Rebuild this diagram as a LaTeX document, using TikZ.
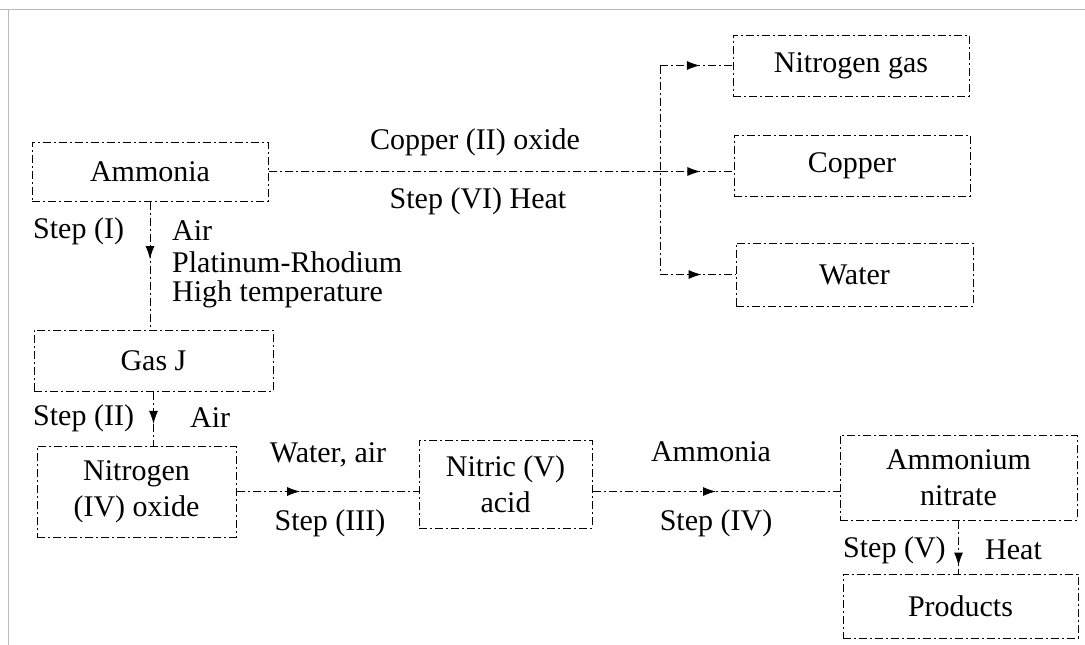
\documentclass[tikz,border=0pt]{standalone}
\usepackage{fontspec}
\setmainfont{Liberation Serif}
\usetikzlibrary{arrows.meta,decorations.markings}
\tikzset{
  ln/.style={line width=1pt, dash pattern=on 8pt off 3pt on 2pt off 3pt},
  box/.style={ln, draw, align=center, inner sep=0pt, font=\fontsize{30}{36}\selectfont},
  lbl/.style={inner sep=0pt, align=left, font=\fontsize{30}{36}\selectfont},
  midarrow/.style={postaction={decorate},
    decoration={markings, mark=at position #1 with {\arrow{Latex[length=13pt,width=9pt]}}}},
}
\begin{document}
\begin{tikzpicture}[x=1pt,y=-1pt]
\useasboundingbox (0,0) rectangle (1085,645);
\draw[gray!55, line width=1pt] (0,9) -- (1085,9);
\draw[gray!55, line width=1pt] (8,9) -- (8,645);
% boxes
\node[box, minimum width=236pt, minimum height=59pt] (amm) at (150,171.5) {Ammonia};
\node[box, minimum width=239pt, minimum height=61pt] (gasj) at (153.5,360.5) {Gas J};
\node[box, minimum width=199pt, minimum height=91pt] (no2) at (136.5,491.5) {Nitrogen\\(IV) oxide};
\node[box, minimum width=173pt, minimum height=88pt] (hno3) at (505.5,484) {Nitric (V)\\acid};
\node[box, minimum width=237pt, minimum height=85pt] (amn) at (958.5,477.5) {Ammonium\\nitrate};
\node[box, minimum width=235pt, minimum height=64pt] (prod) at (960.5,606) {Products};
\node[box, minimum width=236pt, minimum height=61pt] (ng) at (851,65.5) {Nitrogen gas};
\node[box, minimum width=236pt, minimum height=61pt] (cu) at (852,165.5) {Copper};
\node[box, minimum width=237pt, minimum height=63pt] (wat) at (854.5,274.5) {Water};
% junction
\coordinate (jt) at (660,65.5);
\coordinate (jb) at (660,274.5);
\draw[ln] (amm.east) -- (amm.east -| jt);
\draw[ln] (jt) -- (jb);
\draw[ln, midarrow=0.55] (jt) -- (ng.west);
\draw[ln, midarrow=0.55] (amm.east -| jt) -- (cu.west |- amm.east);
\draw[ln, midarrow=0.55] (jb) -- (wat.west);
% vertical steps
\draw[ln, midarrow=0.45] (amm.south) -- (amm.south |- gasj.north);
\draw[ln, midarrow=0.6] (gasj.south) -- (gasj.south |- no2.north);
\draw[ln, midarrow=0.85] (amn.south) -- (amn.south |- prod.north);
% horizontal steps
\draw[ln, midarrow=0.35] (no2.east) -- (no2.east -| hno3.west);
\draw[ln, midarrow=0.5] (hno3.east |- no2.east) -- (amn.west |- no2.east);
% labels
\node[lbl] (l6a) at (475,142) {Copper (II) oxide};
\node[lbl] (l6b) at (478,201) {Step (VI) Heat};
\node[lbl, anchor=west] (l1) at (33,231) {Step (I)};
\node[lbl, anchor=west] (l1a) at (172,231) {Air};
\node[lbl, anchor=west] (l1b) at (172,262) {Platinum-Rhodium};
\node[lbl, anchor=west] (l1c) at (172,294) {High temperature};
\node[lbl, anchor=west] (l2) at (33,418) {Step (II)};
\node[lbl, anchor=west] (l2a) at (190,418) {Air};
\node[lbl] (l3a) at (328,455) {Water, air};
\node[lbl] (l3b) at (330,523) {Step (III)};
\node[lbl] (l4a) at (711,452) {Ammonia};
\node[lbl] (l4b) at (716,523) {Step (IV)};
\node[lbl, anchor=west] (l5) at (843,550) {Step (V)};
\node[lbl, anchor=west] (l5a) at (985,550) {Heat};
\end{tikzpicture}
\end{document}
